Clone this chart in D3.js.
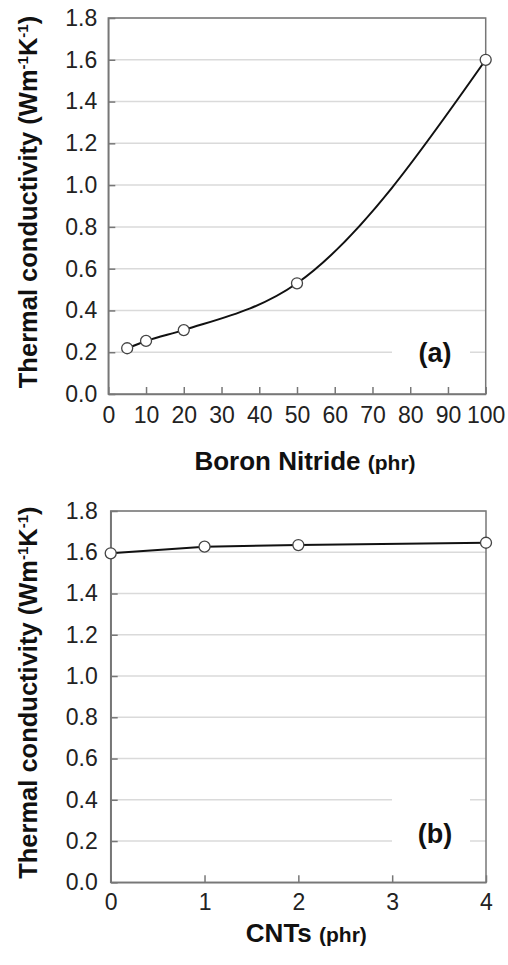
<!DOCTYPE html>
<html>
<head>
<meta charset="utf-8">
<script src="https://cdn.jsdelivr.net/npm/d3@7"></script>
<style>
body { margin: 0; background: #fff; }
svg { display: block; }
.axis text { font-family: "Liberation Sans", Arial, sans-serif; font-size: 23px; fill: #222; }
.axis path, .axis line { stroke: #777; stroke-width: 1.5; }
.grid line { stroke: #dadada; stroke-width: 1.5; }
</style>
</head>
<body>
<script>
var width = 508;
var height = 965;

// panel (a): conductivity vs boron nitride loading
var bnLoading = [5, 10, 20, 50, 100];
var bnConductivity = [0.219, 0.254, 0.306, 0.53, 1.6];
var bnTicks = [0, 10, 20, 30, 40, 50, 60, 70, 80, 90, 100];

// panel (b): conductivity vs CNT loading (at 100 phr BN)
var cntLoading = [0, 1, 2, 4];
var cntConductivity = [1.595, 1.627, 1.635, 1.646];
var cntTicks = [0, 1, 2, 3, 4];

var yTicks = [0, 0.2, 0.4, 0.6, 0.8, 1.0, 1.2, 1.4, 1.6, 1.8];

var svg = d3.select("body").append("svg")
    .attr("width", width)
    .attr("height", height);

var panels = [
    { left: 108.3, right: 485.7, top: 18, bottom: 394,
      xs: bnLoading, ys: bnConductivity, xTicks: bnTicks, xMax: 100,
      curve: d3.curveMonotoneX, xPad: 13, yPad: 11,
      title: "Boron Nitride", label: "(a)", labelY: 362, boxTop: 330, boxBottom: 372, titleY: 470 },
    { left: 110.7, right: 486, top: 511, bottom: 882.3,
      xs: cntLoading, ys: cntConductivity, xTicks: cntTicks, xMax: 4,
      curve: d3.curveLinear, xPad: 11, yPad: 13,
      title: "CNTs", label: "(b)", labelY: 843, boxTop: 790, boxBottom: 856, titleY: 942 }
];

panels.forEach(drawPanel);

function drawPanel(p) {
    var x = d3.scaleLinear().domain([0, p.xMax]).range([p.left, p.right]);
    var y = d3.scaleLinear().domain([0, 1.8]).range([p.bottom, p.top]);
    var g = svg.append("g");

    // light horizontal gridlines
    g.append("g").attr("class", "grid")
        .selectAll("line")
        .data(yTicks.filter(function(d) { return d > 0; }))
        .enter().append("line")
        .attr("x1", p.left).attr("x2", p.right)
        .attr("y1", function(d) { return y(d); })
        .attr("y2", function(d) { return y(d); });

    // white box behind the panel letter
    g.append("rect")
        .attr("x", 392)
        .attr("y", p.boxTop)
        .attr("width", 78)
        .attr("height", p.boxBottom - p.boxTop)
        .attr("fill", "#fff");

    // plot border
    g.append("rect")
        .attr("x", p.left).attr("y", p.top)
        .attr("width", p.right - p.left).attr("height", p.bottom - p.top)
        .attr("fill", "none").attr("stroke", "#777").attr("stroke-width", 1.5);

    g.append("g").attr("class", "axis")
        .attr("transform", "translate(" + p.left + ",0)")
        .call(d3.axisLeft(y).tickValues(yTicks).tickFormat(d3.format(".1f"))
            .tickSizeInner(-7).tickSizeOuter(0).tickPadding(p.yPad));

    g.append("g").attr("class", "axis")
        .attr("transform", "translate(0," + p.bottom + ")")
        .call(d3.axisBottom(x).tickValues(p.xTicks).tickFormat(d3.format("d"))
            .tickSizeInner(-7).tickSizeOuter(0).tickPadding(p.xPad));

    var pts = p.xs.map(function(d, i) { return [d, p.ys[i]]; });

    var line = d3.line()
        .x(function(d) { return x(d[0]); })
        .y(function(d) { return y(d[1]); })
        .curve(p.curve);

    g.append("path")
        .datum(pts)
        .attr("d", line)
        .attr("fill", "none")
        .attr("stroke", "#111")
        .attr("stroke-width", 2);

    g.selectAll("circle")
        .data(pts)
        .enter().append("circle")
        .attr("cx", function(d) { return x(d[0]); })
        .attr("cy", function(d) { return y(d[1]); })
        .attr("r", 5.5)
        .attr("fill", "#fff")
        .attr("stroke", "#444")
        .attr("stroke-width", 1.3);

    // panel letter
    g.append("text")
        .attr("x", 435).attr("y", p.labelY)
        .attr("text-anchor", "middle")
        .style("font-family", "'Liberation Sans', Arial, sans-serif")
        .style("font-weight", "bold")
        .style("font-size", "27px")
        .style("fill", "#111")
        .text(p.label);

    // x axis title
    var xt = g.append("text")
        .attr("x", (p.left + p.right) / 2 + 8)
        .attr("y", p.titleY)
        .attr("text-anchor", "middle")
        .style("font-family", "'Liberation Sans', Arial, sans-serif")
        .style("font-weight", "bold")
        .style("fill", "#111");
    xt.append("tspan").style("font-size", "26px").text(p.title + " ");
    xt.append("tspan").style("font-size", "21px").text("(phr)");

    // y axis title
    var yt = g.append("text")
        .attr("transform", "translate(37," + ((p.top + p.bottom) / 2 - 4) + ") rotate(-90)")
        .attr("text-anchor", "middle")
        .style("font-family", "'Liberation Sans', Arial, sans-serif")
        .style("font-weight", "bold")
        .style("font-size", "25.5px")
        .style("fill", "#111");
    yt.append("tspan").text("Thermal conductivity (Wm");
    yt.append("tspan").attr("dy", -9).style("font-size", "15px").text("-1");
    yt.append("tspan").attr("dy", 9).text("K");
    yt.append("tspan").attr("dy", -9).style("font-size", "15px").text("-1");
    yt.append("tspan").attr("dy", 9).text(")");
}
</script>
</body>
</html>
